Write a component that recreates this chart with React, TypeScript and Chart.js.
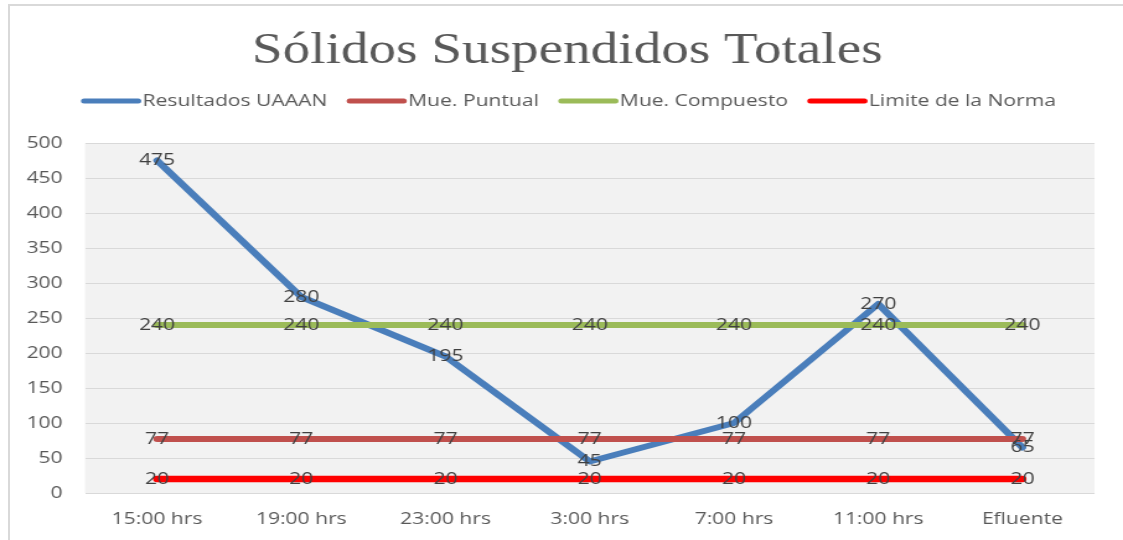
import React, { useEffect, useRef } from 'react';
import { Chart, registerables } from 'chart.js';

Chart.register(...registerables);

const TITLE = 'Sólidos Suspendidos Totales';
const categories = ['15:00 hrs', '19:00 hrs', '23:00 hrs', '3:00 hrs', '7:00 hrs', '11:00 hrs', 'Efluente'];
const resultadosUAAAN = [475, 280, 195, 45, 100, 270, 65];
const muePuntual = [77, 77, 77, 77, 77, 77, 77];
const mueCompuesto = [240, 240, 240, 240, 240, 240, 240];
const limiteNorma = [20, 20, 20, 20, 20, 20, 20];
const seriesNames = ['Resultados UAAAN', 'Mue. Puntual', 'Mue. Compuesto', 'Limite de la Norma'];
const seriesColors = ['#4a7ebb', '#c0504d', '#9bbb59', '#ff0000'];
const yMin = 0;
const yMax = 500;
const yStep = 50;

// the reference image is horizontally stretched; draw at a narrower logical width and stretch
const STRETCH = 1.24;
const LOGICAL_W = Math.round(1123 / STRETCH);
const H = 540;

const SANS = '"Open Sans", sans-serif';

const bgPlugin = {
  id: 'plotBg',
  beforeDraw(chart: any) {
    const { ctx, chartArea } = chart;
    ctx.save();
    ctx.fillStyle = '#f2f2f2';
    ctx.fillRect(chartArea.left, chartArea.top, chartArea.right - chartArea.left, chartArea.bottom - chartArea.top);
    ctx.restore();
  },
};

const headerPlugin = {
  id: 'header',
  afterDraw(chart: any) {
    const { ctx } = chart;
    ctx.save();
    ctx.font = '44.5px "Liberation Serif", serif';
    ctx.fillStyle = '#595959';
    ctx.textAlign = 'center';
    ctx.textBaseline = 'alphabetic';
    ctx.fillText(TITLE, 567.5 / STRETCH, 63);

    ctx.font = '17px ' + SANS;
    const markerW = 59 / STRETCH;
    const gap = 2 / STRETCH;
    const itemGap = 20 / STRETCH;
    const widths = seriesNames.map((n) => markerW + gap + ctx.measureText(n).width);
    const total = widths.reduce((a, b) => a + b, 0) + itemGap * (seriesNames.length - 1);
    let x = 569 / STRETCH - total / 2;
    const y = 101;
    seriesNames.forEach((name, i) => {
      ctx.strokeStyle = seriesColors[i];
      ctx.lineWidth = 5;
      ctx.lineCap = 'round';
      ctx.beginPath();
      ctx.moveTo(x + 2, y);
      ctx.lineTo(x + markerW - 2, y);
      ctx.stroke();
      ctx.fillStyle = '#595959';
      ctx.textAlign = 'left';
      ctx.textBaseline = 'middle';
      ctx.fillText(name, x + markerW + gap, y);
      x += widths[i] + itemGap;
    });
    ctx.restore();
  },
};

const labelsPlugin = {
  id: 'pointLabels',
  afterDatasetsDraw(chart: any) {
    const { ctx } = chart;
    ctx.save();
    ctx.font = '17px ' + SANS;
    ctx.fillStyle = '#404040';
    ctx.textAlign = 'center';
    ctx.textBaseline = 'middle';
    chart.data.datasets.forEach((ds: any, di: number) => {
      const meta = chart.getDatasetMeta(di);
      meta.data.forEach((pt: any, i: number) => {
        ctx.fillText(String(ds.data[i]), pt.x, pt.y);
      });
    });
    ctx.restore();
  },
};

export default function App() {
  const ref = useRef<HTMLCanvasElement | null>(null);
  useEffect(() => {
    if (!ref.current) return;
    const series = [resultadosUAAAN, muePuntual, mueCompuesto, limiteNorma];
    const plotLeft = 85 / STRETCH;
    const plotRight = 1095 / STRETCH;
    const padLeft = 5;
    const chart = new Chart(ref.current, {
      type: 'line',
      data: {
        labels: categories,
        datasets: series.map((d, i) => ({
          label: seriesNames[i],
          data: d,
          borderColor: seriesColors[i],
          backgroundColor: seriesColors[i],
          borderWidth: i === 0 ? 6 : i === 3 ? 6.5 : 6,
          borderCapStyle: 'round',
          borderJoinStyle: 'round',
          pointRadius: 0,
          pointHoverRadius: 0,
          tension: 0,
          fill: false,
          order: 3 - i,
        })),
      },
      options: {
        animation: false,
        responsive: false,
        maintainAspectRatio: false,
        events: [],
        layout: { padding: { top: 143, left: padLeft, right: LOGICAL_W - plotRight, bottom: 0 } },
        plugins: {
          legend: { display: false },
          title: { display: false },
          tooltip: { enabled: false },
        },
        scales: {
          x: {
            offset: true,
            grid: { display: false, drawTicks: false },
            border: { display: false },
            ticks: {
              color: '#595959',
              font: { family: SANS, size: 17 },
              padding: 16,
              maxRotation: 0,
              autoSkip: false,
            },
            afterFit: (s: any) => {
              s.height = H - 493;
            },
          },
          y: {
            min: yMin,
            max: yMax,
            grid: { color: '#d9d9d9', lineWidth: 1, drawTicks: false },
            border: { display: false },
            ticks: {
              stepSize: yStep,
              color: '#595959',
              font: { family: SANS, size: 17 },
              padding: 18,
            },
            afterFit: (s: any) => {
              s.width = plotLeft - padLeft;
            },
          },
        },
      },
      plugins: [bgPlugin, labelsPlugin, headerPlugin],
    } as any);
    return () => chart.destroy();
  }, []);
  return (
    <div>
      <div
        style={{
          position: 'fixed',
          left: 8,
          top: 4,
          width: 1300,
          height: 700,
          borderLeft: '2px solid #d9d9d9',
          borderTop: '2px solid #d9d9d9',
          boxSizing: 'border-box',
        }}
      />
      <div
        style={{
          position: 'fixed',
          left: 0,
          top: 0,
          width: LOGICAL_W,
          height: H,
          transform: `scaleX(${1123 / LOGICAL_W})`,
          transformOrigin: '0 0',
        }}
      >
        <canvas ref={ref} width={LOGICAL_W} height={H} style={{ display: 'block', width: LOGICAL_W, height: H }} />
      </div>
    </div>
  );
}
